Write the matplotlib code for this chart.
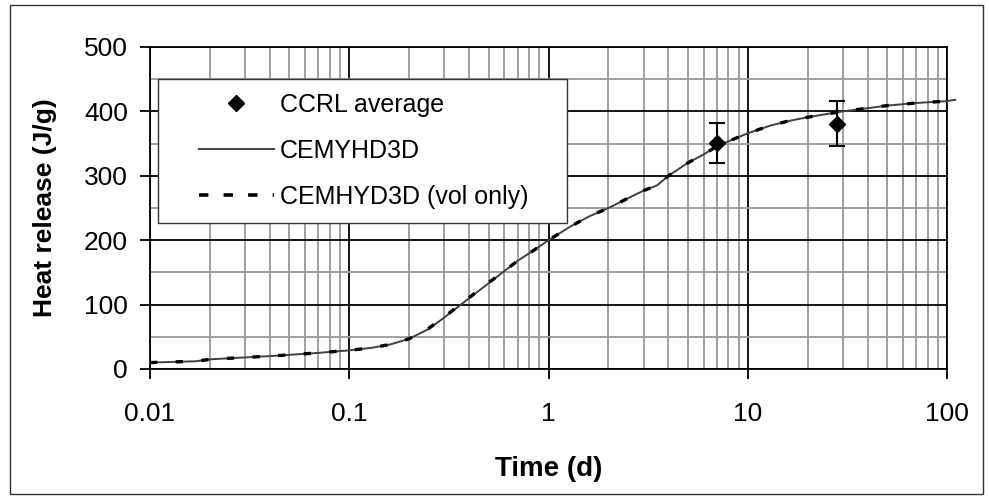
import matplotlib
matplotlib.use("Agg")
import matplotlib.pyplot as plt
from matplotlib.ticker import FixedLocator, NullFormatter, FuncFormatter
from matplotlib.legend_handler import HandlerLine2D
from matplotlib.patches import Rectangle
from matplotlib.lines import Line2D

plt.rcParams['font.family'] = ['Liberation Sans', 'DejaVu Sans']

# ---- data ----
time_model = [0.01, 0.013, 0.017, 0.02, 0.03, 0.04, 0.05, 0.07, 0.1, 0.13, 0.16, 0.2,
              0.25, 0.3, 0.35, 0.4, 0.5, 0.6, 0.7, 0.85, 1, 1.3, 1.6, 2, 2.5, 3,
              3.5, 4, 5, 6, 7, 8.5, 10, 13, 16, 20, 25, 30, 40, 50, 70, 100, 110]
heat_cemhyd = [10, 11, 12, 15, 18, 20, 22, 25, 29, 33, 38, 47,
               62, 80, 96, 110, 133, 152, 168, 185, 200, 222, 237, 250, 265, 277,
               285, 300, 320, 333, 346, 357, 366, 378, 385, 391, 396, 400, 405, 409, 413, 416, 418]
heat_vol_only = [10, 11, 12, 15, 18, 20, 22, 25, 29, 33, 38, 47,
                 63, 81, 97, 111, 134, 152, 168, 185, 200, 222, 237, 250, 265, 277,
                 285, 300, 320, 333, 346, 357, 366, 378, 385, 391, 396, 400, 405, 409, 413, 416, 418]

time_ccrl = [7, 28]
heat_ccrl = [351, 381]
err_ccrl = [31, 35]

xticks = [0.01, 0.1, 1, 10, 100]
xtick_labels = ["0.01", "0.1", "1", "10", "100"]
yticks = [0, 100, 200, 300, 400, 500]

W, H, DPI = 989, 499, 100
fig = plt.figure(figsize=(W / DPI, H / DPI), dpi=DPI)
ax = fig.add_axes([150 / W, 1 - 369 / H, (947 - 150) / W, (369 - 47) / H])

# outer chart border
fig.patches.append(Rectangle((10 / W, 1 - 494 / H), (983 - 10) / W, (494 - 5) / H,
                             transform=fig.transFigure, fill=False,
                             edgecolor='#333333', linewidth=1.0))

ax.set_xscale('log')
ax.set_xlim(0.01, 100)
ax.set_ylim(0, 500)

# grid
ax.xaxis.set_major_locator(FixedLocator(xticks))
minor_x = [m * 10.0 ** e for e in range(-2, 2) for m in range(2, 10)]
ax.xaxis.set_minor_locator(FixedLocator(minor_x))
ax.xaxis.set_major_formatter(FuncFormatter(
    lambda v, p: xtick_labels[xticks.index(min(xticks, key=lambda t: abs(t - v)))]))
ax.xaxis.set_minor_formatter(NullFormatter())
ax.yaxis.set_major_locator(FixedLocator(yticks))
ax.yaxis.set_minor_locator(FixedLocator([50, 150, 250, 350, 450]))

ax.grid(which='minor', color='#999999', linewidth=1.3, zorder=0)
ax.grid(which='major', color='black', linewidth=1.3, zorder=1)
ax.set_axisbelow(True)

ax.tick_params(which='major', direction='out', length=7, width=1.3, color='black',
               labelsize=19)
ax.tick_params(axis='x', which='major', pad=17)
ax.tick_params(axis='y', which='major', pad=9)
ax.tick_params(which='minor', length=0)
for s in ax.spines.values():
    s.set_color('black')
    s.set_linewidth(1.3)

# curves
ax.plot(time_model, heat_cemhyd, color='#404040', linewidth=1.4, clip_on=False,
        zorder=3, label='CEMYHD3D')
ax.plot(time_model, heat_vol_only, color='black', linewidth=2.4,
        linestyle=(0, (2.2, 5.5)), clip_on=False, zorder=4, label='CEMHYD3D (vol only)')
ax.errorbar(time_ccrl, heat_ccrl, yerr=err_ccrl, fmt='D', color='black',
            markersize=8, capsize=5.5, elinewidth=1.5, capthick=1.5,
            zorder=5, label='CCRL average')

ax.set_xlabel('Time (d)', fontsize=20, fontweight='bold', labelpad=21)
ax.set_ylabel('Heat release (J/g)', fontsize=19, fontweight='bold', labelpad=19)


class ShiftedHandler(HandlerLine2D):
    def __init__(self, shift, **kw):
        super().__init__(**kw)
        self.shift = shift

    def create_artists(self, legend, orig_handle, xdescent, ydescent, width, height,
                       fontsize, trans):
        return super().create_artists(legend, orig_handle, xdescent - self.shift,
                                      ydescent, width - self.shift, height, fontsize, trans)


h_ccrl = Line2D([], [], marker='D', color='black', linestyle='none', markersize=8)
h_cem = Line2D([], [], color='#404040', linewidth=1.4)
h_vol = Line2D([], [], color='black', linewidth=2.6, linestyle=(0, (2.6, 4.2)))

x0 = (158 - 150) / 797
y1 = (369 - 79) / 322
wleg = (567 - 158) / 797
hleg = (221 - 79) / 322
leg = ax.legend([h_ccrl, h_cem, h_vol], ['CCRL average', 'CEMYHD3D', 'CEMHYD3D (vol only)'],
                loc='upper left', bbox_to_anchor=(x0, y1 - hleg, wleg, hleg), mode='expand',
                borderaxespad=0, fontsize=18, frameon=True, fancybox=False,
                edgecolor='#333333', framealpha=1, borderpad=0.56, labelspacing=0.88,
                handlelength=4.08, handletextpad=0.24, numpoints=1,
                handler_map={h_ccrl: ShiftedHandler(19.2), h_cem: ShiftedHandler(19.2),
                             h_vol: ShiftedHandler(19.2)})
leg.get_frame().set_linewidth(1.0)
leg.set_zorder(10)

fig.savefig('out.png', dpi=DPI)
